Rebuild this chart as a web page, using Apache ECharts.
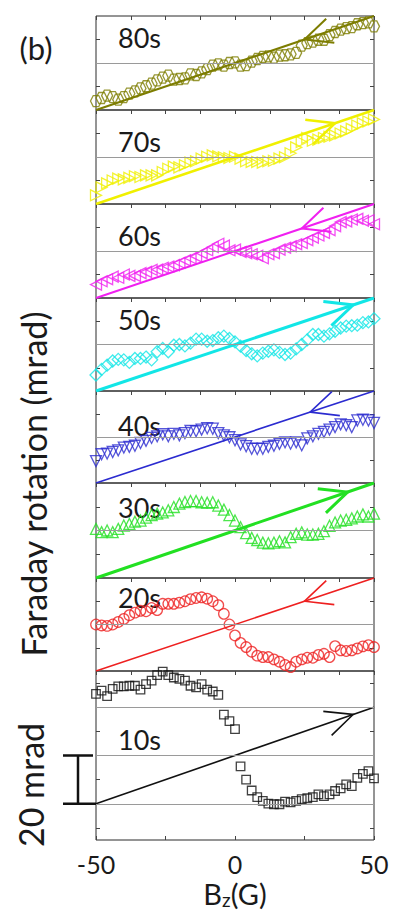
<!DOCTYPE html>
<html>
<head>
<meta charset="utf-8">
<script src="https://cdn.jsdelivr.net/npm/echarts@6/dist/echarts.min.js"></script>
<style>
  html, body { margin: 0; padding: 0; background: #fff; }
  #chart { width: 393px; height: 911px; }
</style>
</head>
<body>
<div id="chart"></div>
<script>
// Field sweep (G), shared by every panel
const bz = [-50, -48, -46, -44, -42, -40, -38, -36, -34, -32, -30, -28, -26, -24, -22, -20, -18, -16, -14, -12,
            -10, -8, -6, -4, -2, 0, 2, 4, 6, 8, 10, 12, 14, 16, 18, 20, 22, 24, 26, 28,
            30, 32, 34, 36, 38, 40, 42, 44, 46, 48, 50];

// Faraday rotation (mrad) for each delay
const rot80 = [-16.2, -14.9, -13.9, -14.5, -15.6, -14.5, -13, -12.1, -10.8, -9.9, -8.8, -7.4, -6.2, -5.4, -7.1, -6.8, -6.5, -4.8, -5.1, -4,
               -2.6, -1.1, -0.6, -1.1, 0, 0.3, -1.1, -0.9, 0.6, 1.7, 2.6, 2.8, 2.3, 3.1, 3.3, 3.7, 4.3, 7.4, 8.5, 9.1,
               9.9, 9.9, 11.9, 13.2, 14.2, 14.8, 15.3, 16.5, 17, 17.3, 15.6];
const rot70 = [-16.3, -12.9, -11.2, -10, -9.2, -9.5, -8.9, -8.2, -8.5, -7.8, -7.8, -7.8, -6.4, -5, -4.1, -4.4, -3.5, -2.4, -1.8, -0.7,
               0.1, 0.7, 0.3, -0.1, -0.4, 0.1, -0.7, -1.8, -2.1, -2.1, -2.4, -1.8, -1.6, -0.7, -0.1, 1.6, 4.1, 6.4, 8.1, 6.9,
               7.4, 8.1, 8.6, 9.2, 10, 10.9, 12, 13.4, 14.3, 15.1, 16];
const rot60 = [-14.3, -12.9, -12, -10.9, -11.4, -10, -10.6, -10.6, -9.4, -8.9, -8, -7.9, -7.1, -6.6, -6, -5, -4, -3.1, -2.3, -0.9,
               0.3, 1.7, 3.1, 2.3, 0.3, 0.6, -0.4, -0.9, -1.4, -2, -3.1, -1.4, -0.9, 0.6, 1.4, 2, 2.9, 3.4, 4.6, 5.7,
               6.6, 7.7, 8.9, 10.6, 12.3, 12.6, 13.4, 13.7, 12.9, 13.1, 11.4];
const rot50 = [-13.1, -10.7, -8.9, -7.1, -6.4, -6.6, -7.7, -6, -6, -5.4, -6.6, -3.1, -1.7, -3.1, -0.3, 0, -0.6, 0.6, 2.3, 2.3,
               1.4, 1.7, 2.9, 3.6, 2.6, 1.1, -0.7, -2.6, -4, -4.9, -3.7, -2.9, -2.3, -3.4, -4.3, -3.7, -1.9, 0, 2, 4.3,
               4.3, 3.6, 4.6, 5.7, 7.1, 7.9, 8.1, 8.3, 9.4, 9.7, 11.1];
const rot40 = [-10.5, -7.5, -7.2, -6.5, -5.8, -4.6, -4.3, -3.8, -2.6, -1.7, -0.4, 0.3, 1.2, 0.3, 1.4, 0.7, 1.7, 2.6, 2.5, 3.2,
               3.8, 3.6, 1.7, 0.7, -0.1, -1.4, -3.2, -4, -5.1, -5.2, -5.1, -4.3, -3.8, -3, -2.3, -2.9, -2.3, -3.6, -0.6, 0.3,
               1.4, 2.2, 3.2, 4.3, 5.5, 5.1, 4.3, 7.2, 7.5, 7.2, 6.1];
const rot30 = [0.7, -0.7, 0, -0.7, 0.7, 2.1, 2.8, 3.7, 4.2, 5.4, 6.5, 7.1, 7.6, 8.5, 9.9, 11.3, 12, 12.4, 12.4, 11.9,
               11.7, 11.9, 10.5, 8.8, 6.5, 4.2, 1.4, -1.1, -3.1, -4, -5.1, -5.4, -5.1, -4.5, -5, -2.8, -1.4, -0.8, -1.7, -1.7,
               -1.4, -0.3, 2, 3.4, 4.2, 4.5, 5.1, 5.9, 6.8, 5.9, 7.1];
const rot20 = [0, -0.4, -0.6, 0, 1.1, 2.4, 4, 5.1, 5.9, 5.7, 7.1, 6.2, 8.9, 8.9, 8.9, 9.4, 10, 10.9, 11.4, 11.7,
               11.1, 10, 8.3, 4.6, 0, -4.7, -7.9, -9.7, -11.7, -13.4, -14, -14, -15, -16, -17.4, -18.3, -16, -15, -14.3, -14.3,
               -13.1, -12.6, -14, -9.3, -11.1, -11.4, -11.1, -10.3, -9.4, -8.9, -9.7];
const rot10 = [25.5, 26.9, 24.6, 27.6, 28.6, 28.6, 28.9, 28.9, 27.3, 29.6, 31, 33.3, 34.7, 33.3, 32.3, 31.7, 31, 28.9, 28.2, 29.6,
               27.3, 26.5, 25.1, 16.9, 14.2, 10.9, -4.5, -10, -14.5, -17.2, -18.8, -19.9, -20.2, -20.2, -19.1, -19.4, -18.8, -18.1, -17.7, -17.2,
               -16.1, -16.8, -16.1, -14.7, -13.6, -12, -12.7, -9.3, -7.6, -6.5, -9.5];

const delays = ['80s', '70s', '60s', '50s', '40s', '30s', '20s', '10s'];
const rotations = [rot80, rot70, rot60, rot50, rot40, rot30, rot20, rot10];

// Reference linear response, drawn in every panel
const refX = [-50, 50];
const refY = [-20, 20];

// Sweep-direction arrow on the reference line: field position and direction (+1 up-sweep, -1 down-sweep)
const arrowAt = [25, 36, 24, 42.5, 27, 40.5, 25, 42.5];
const arrowDir = [-1, 1, -1, 1, -1, 1, -1, 1];

// Axis ranges and ticks
const xTicksTop = 12.5;
const xLabelValues = [-50, 0, 50];
const yRangeStd = [-20, 20];
const yRangeWide = [-35, 35];
const yTicksStd = [-10, 10];
const yTicksWide = [-30, -10, 10, 30];
const guideStd = [0];
const guideWide = [-20, 0, 20];
const scaleBar = [0, -20]; // 20 mrad bar, in units of the bottom panel

// ---- styling / layout ----
const colors = ['#7d7d00', '#f0f000', '#f020f0', '#12e6e6', '#2b2bd0', '#22e022', '#ee2020', '#111111'];
const lineWidths = [2, 2.5, 2, 3, 1.6, 3, 1.6, 1.6];
const hexagon = 'path://M-10,0 L-5,-8.66 L5,-8.66 L10,0 L5,8.66 L-5,8.66 Z';
const symbols = [hexagon, 'triangle', 'triangle', 'diamond', 'triangle', 'triangle', 'circle', 'rect'];
const symbolRot = [0, -90, 90, 0, 180, 0, 0, 0];
const symbolSizes = [11, 11, 11, 12, 11, 11, 10.5, 8.5];
const panelTop = [16, 110, 204, 298, 391, 483, 578, 671];
const panelBottom = [110, 204, 298, 391, 483, 578, 671, 840];
const labelMidY = [37, 141, 235, 319, 425, 507, 597, 739];
const plotLeft = 96, plotRight = 374, W = 393;
const FONT = 'Lato';

const grids = [], xAxes = [], yAxes = [], series = [];
const nP = delays.length;

for (let i = 0; i < nP; i++) {
  const wide = i === nP - 1;
  const yr = wide ? yRangeWide : yRangeStd;
  grids.push({
    left: plotLeft, right: W - plotRight, top: panelTop[i], height: panelBottom[i] - panelTop[i],
    show: true, borderColor: '#2b2b2b', borderWidth: 1, backgroundColor: 'transparent'
  });
  xAxes.push({
    type: 'value', gridIndex: i, position: 'top', min: -50, max: 50, interval: xTicksTop,
    axisLine: { show: false, onZero: false },
    axisTick: { show: true, inside: true, length: 4, lineStyle: { color: '#444', width: 1 } },
    axisLabel: { show: false }, splitLine: { show: false }
  });
  const yTicks = wide ? yTicksWide : yTicksStd;
  ['left', 'right'].forEach(pos => {
    yAxes.push({
      type: 'value', gridIndex: i, position: pos, min: yr[0], max: yr[1],
      axisLine: { show: false, onZero: false },
      axisTick: { show: true, inside: true, length: 4, customValues: yTicks, lineStyle: { color: '#444', width: 1 } },
      axisLabel: { show: false }, splitLine: { show: false }
    });
  });

  const c = colors[i];
  // horizontal guide lines
  series.push({
    type: 'line', xAxisIndex: i, yAxisIndex: 2 * i, data: [], z: 1, silent: true,
    markLine: {
      silent: true, symbol: 'none', animation: false, label: { show: false },
      lineStyle: { color: '#9a9a9a', width: 1, type: 'solid' },
      data: (wide ? guideWide : guideStd).map(v => ({ yAxis: v }))
    }
  });
  // reference line
  series.push({
    type: 'line', xAxisIndex: i, yAxisIndex: 2 * i, z: 2, silent: true, animation: false,
    data: refX.map((x, j) => [x, refY[j]]),
    symbol: 'none', lineStyle: { color: c, width: lineWidths[i] }
  });
  // measured points
  series.push({
    type: 'scatter', xAxisIndex: i, yAxisIndex: 2 * i, z: 3, silent: true, animation: false,
    data: bz.map((x, j) => [x, rotations[i][j]]),
    symbol: symbols[i], symbolRotate: symbolRot[i], symbolSize: symbolSizes[i],
    itemStyle: { color: 'rgba(255,255,255,0)', borderColor: c, borderWidth: 1.3 }
  });
  // sweep arrow (open chevron sitting on the reference line)
  const lw = lineWidths[i];
  series.push({
    type: 'custom', xAxisIndex: i, yAxisIndex: 2 * i, z: 4, silent: true, animation: false,
    data: [[arrowAt[i], arrowDir[i]]],
    renderItem: (params, api) => {
      const gx = api.value(0), dir = api.value(1);
      const slope = (refY[1] - refY[0]) / (refX[1] - refX[0]);
      const v = api.coord([gx, refY[0] + slope * (gx - refX[0])]);
      const p0 = api.coord([refX[0], refY[0]]), p1 = api.coord([refX[1], refY[1]]);
      const ang = Math.atan2(p1[1] - p0[1], p1[0] - p0[0]);
      const base = dir > 0 ? ang + Math.PI : ang;
      const half = 25 * Math.PI / 180, len = 30;
      const a1 = [v[0] + len * Math.cos(base + half), v[1] + len * Math.sin(base + half)];
      const a2 = [v[0] + len * Math.cos(base - half), v[1] + len * Math.sin(base - half)];
      return { type: 'polyline', shape: { points: [a1, v, a2] }, style: { stroke: c, lineWidth: lw, fill: null } };
    }
  });
}

// bottom field axis with labels
xAxes.push({
  type: 'value', gridIndex: nP - 1, position: 'bottom', min: -50, max: 50, interval: 25,
  axisLine: { show: false, onZero: false },
  axisTick: { show: true, inside: true, length: 4, lineStyle: { color: '#444', width: 1 } },
  axisLabel: {
    show: true, margin: 11, color: '#1a1a1a', fontFamily: FONT, fontSize: 25, lineHeight: 25,
    formatter: v => (xLabelValues.indexOf(v) >= 0 ? String(v) : '')
  },
  splitLine: { show: false },
  name: '{b|B}{s|z}{b|(G)}', nameLocation: 'middle', nameGap: 39,
  nameTextStyle: {
    color: '#1a1a1a', fontFamily: FONT, lineHeight: 28,
    rich: { b: { fontSize: 29, lineHeight: 28, fontFamily: FONT, color: '#1a1a1a' },
            s: { fontSize: 19, lineHeight: 16, fontFamily: FONT, color: '#1a1a1a', padding: [12, 0, 0, 0] } }
  }
});

const texts = [
  { type: 'text', x: 36, y: 48, style: { text: '(b)', font: '31px ' + FONT, fill: '#1a1a1a', align: 'center', verticalAlign: 'middle' } },
  { type: 'text', x: 33, y: 484, rotation: Math.PI / 2, style: { text: 'Faraday rotation (mrad)', font: '34px ' + FONT, fill: '#1a1a1a', align: 'center', verticalAlign: 'middle' } },
  { type: 'text', x: 30, y: 785, rotation: Math.PI / 2, style: { text: '20 mrad', font: '34px ' + FONT, fill: '#1a1a1a', align: 'center', verticalAlign: 'middle' } }
];
delays.forEach((d, i) => {
  texts.push({ type: 'text', x: 118, y: labelMidY[i], style: { text: d, font: '27px ' + FONT, fill: '#1a1a1a', align: 'left', verticalAlign: 'middle' } });
});

const chart = echarts.init(document.getElementById('chart'), null, { renderer: 'svg' });
chart.setOption({
  animation: false,
  backgroundColor: '#fff',
  grid: grids, xAxis: xAxes, yAxis: yAxes, series: series,
  graphic: texts
});

// 20 mrad scale bar, sized with the bottom panel's own scale
const yA = chart.convertToPixel({ gridIndex: nP - 1 }, [-50, scaleBar[0]])[1];
const yB = chart.convertToPixel({ gridIndex: nP - 1 }, [-50, scaleBar[1]])[1];
const barX = 78;
texts.push({
  type: 'group', children: [
    { type: 'line', shape: { x1: barX, y1: yA, x2: barX, y2: yB }, style: { stroke: '#111', lineWidth: 2.5 } },
    { type: 'line', shape: { x1: 63, y1: yA, x2: 93, y2: yA }, style: { stroke: '#111', lineWidth: 2.5 } },
    { type: 'line', shape: { x1: 63, y1: yB, x2: plotLeft, y2: yB }, style: { stroke: '#111', lineWidth: 2.5 } }
  ]
});
chart.setOption({ graphic: texts });
</script>
</body>
</html>
